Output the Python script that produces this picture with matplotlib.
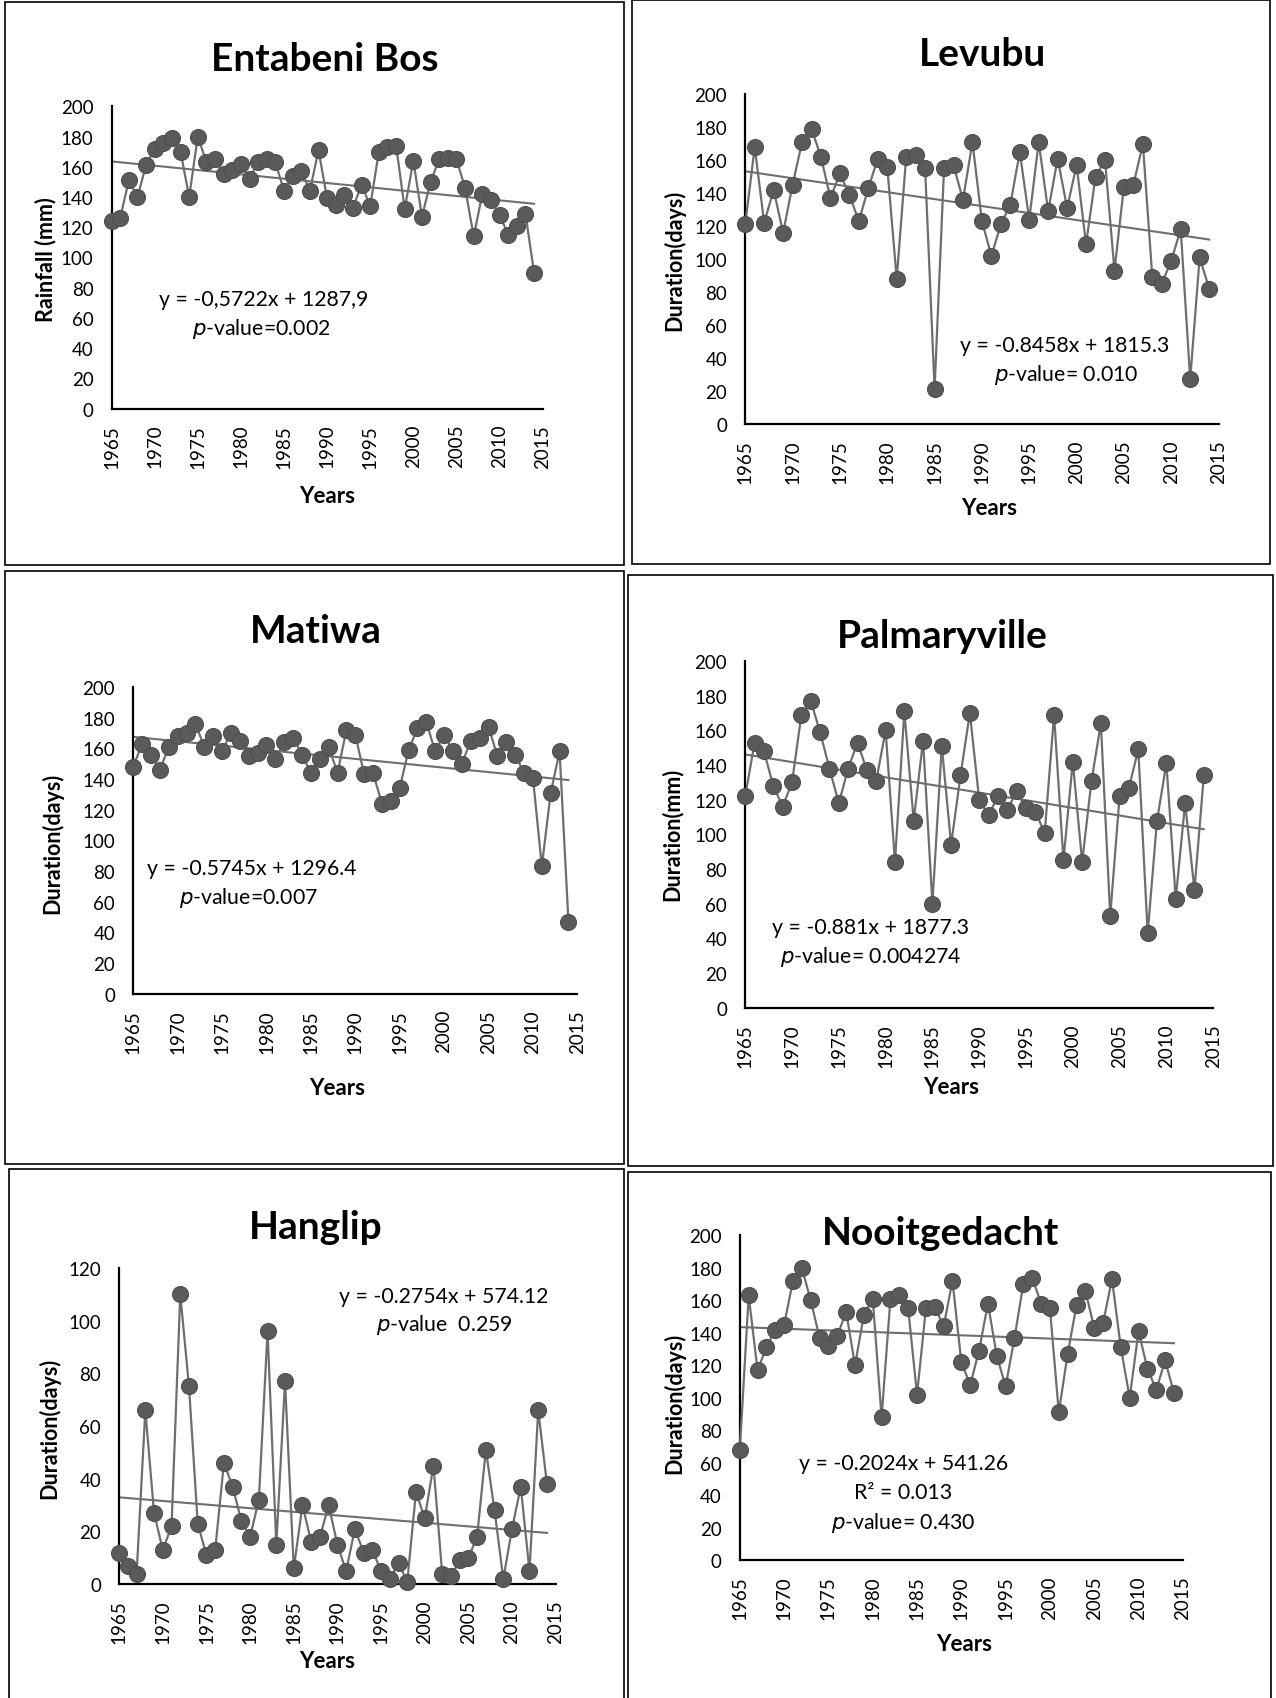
import numpy as np
import matplotlib
matplotlib.use('Agg')
import matplotlib.pyplot as plt
from matplotlib.patches import Rectangle

plt.rcParams['font.family'] = ['Lato', 'DejaVu Sans']

years = np.arange(1965, 2015)

entabeni = [124, 126, 151, 140, 161, 172, 176, 179, 170, 140,
            180, 163, 165, 155, 158, 162, 152, 163, 165, 163,
            144, 154, 157, 144, 171, 139, 135, 141, 133, 148,
            134, 170, 173, 174, 132, 164, 127, 150, 165, 166,
            165, 146, 114, 142, 138, 128, 115, 121, 129, 90]

levubu = [121, 168, 122, 142, 116, 145, 171, 179, 162, 137,
          152, 139, 123, 143, 161, 156, 88, 162, 163, 155,
          21, 155, 157, 136, 171, 123, 102, 121, 133, 165,
          124, 171, 129, 161, 131, 157, 109, 150, 160, 93,
          144, 145, 170, 89, 85, 99, 118, 27, 101, 82]

matiwa = [148, 163, 156, 146, 161, 168, 170, 176, 161, 168,
          158, 170, 165, 155, 157, 162, 153, 164, 167, 156,
          144, 153, 161, 144, 172, 169, 143, 144, 124, 126,
          134, 159, 173, 177, 158, 169, 158, 150, 165, 167,
          174, 155, 164, 156, 144, 141, 83, 131, 158, 47]

palmaryville = [122, 153, 148, 128, 116, 130, 169, 177, 159, 138,
                118, 138, 153, 137, 131, 160, 84, 171, 108, 154,
                60, 151, 94, 134, 170, 120, 111, 122, 114, 125,
                115, 113, 101, 169, 85, 142, 84, 131, 164, 53,
                122, 127, 149, 43, 108, 141, 63, 118, 68, 134]

hanglip = [12, 7, 4, 66, 27, 13, 22, 110, 75, 23,
           11, 13, 46, 37, 24, 18, 32, 96, 15, 77,
           6, 30, 16, 18, 30, 15, 5, 21, 12, 13,
           5, 2, 8, 1, 35, 25, 45, 4, 3, 9,
           10, 18, 51, 28, 2, 21, 37, 5, 66, 38]

nooitgedacht = [68, 163, 117, 131, 142, 145, 172, 180, 160, 137,
                132, 138, 153, 120, 151, 161, 88, 161, 163, 155,
                102, 155, 156, 144, 172, 122, 108, 129, 158, 126,
                107, 137, 170, 174, 158, 155, 91, 127, 157, 166,
                143, 146, 173, 131, 100, 141, 118, 105, 123, 103]

# (slope, intercept) of the fitted linear trends
trends = {
    'Entabeni Bos': (-0.5722, 1287.9),
    'Levubu': (-0.8458, 1815.3),
    'Matiwa': (-0.5745, 1296.4),
    'Palmaryville': (-0.881, 1877.3),
    'Hanglip': (-0.2754, 574.12),
    'Nooitgedacht': (-0.2024, 541.26),
}

W, H = 1178.0, 1568.0


def fx(x):
    return x / W


def fy(y):
    return 1 - y / H


panels = [
    dict(name='Entabeni Bos', data=entabeni, ylabel='Rainfall (mm)', ymax=200,
         box=(5, 3, 576, 522), ax=(103, 99, 501, 378),
         title=(300, 55), xlab=(302, 458), ylab=(42, 240),
         notes=[('y = -0,5722x + 1287,9', 243, 277), ('$\\it{p}$-value=0.002', 241, 304)]),
    dict(name='Levubu', data=levubu, ylabel='Duration(days)', ymax=200,
         box=(583, 1, 1172, 521), ax=(688, 88, 1125, 392),
         title=(907, 50), xlab=(913, 469), ylab=(622, 240),
         notes=[('y = -0.8458x + 1815.3', 983, 319), ('$\\it{p}$-value= 0.010', 984, 346)]),
    dict(name='Matiwa', data=matiwa, ylabel='Duration(days)', ymax=200,
         box=(5, 528, 576, 1075), ax=(123, 635, 533, 918),
         title=(292, 583), xlab=(311, 1005), ylab=(48, 778),
         notes=[('y = -0.5745x + 1296.4', 232, 802), ('$\\it{p}$-value=0.007', 229, 829)]),
    dict(name='Palmaryville', data=palmaryville, ylabel='Duration(mm)', ymax=200,
         box=(580, 532, 1175, 1077), ax=(688, 611, 1120, 931),
         title=(870, 587), xlab=(878, 1004), ylab=(620, 770),
         notes=[('y = -0.881x + 1877.3', 804, 856), ('$\\it{p}$-value= 0.004274', 804, 883)]),
    dict(name='Hanglip', data=hanglip, ylabel='Duration(days)', ymax=120,
         box=(8, 1080, 576, 1575), ax=(110, 1171, 513, 1463),
         title=(291, 1133), xlab=(302, 1533), ylab=(45, 1318),
         notes=[('y = -0.2754x + 574.12', 410, 1197), ('$\\it{p}$-value  0.259', 410, 1223)]),
    dict(name='Nooitgedacht', data=nooitgedacht, ylabel='Duration(days)', ymax=200,
         box=(580, 1083, 1173, 1575), ax=(683, 1141, 1092, 1441),
         title=(868, 1138), xlab=(890, 1518), ylab=(622, 1295),
         notes=[('y = -0.2024x + 541.26', 834, 1351), ('R² = 0.013', 834, 1378),
                ('$\\it{p}$-value= 0.430', 834, 1406)]),
]

fig = plt.figure(figsize=(12.76, 16.99), dpi=100)

for p in panels:
    # panel frame
    x0, y0, x1, y1 = p['box']
    fig.patches.append(Rectangle((fx(x0), fy(y1)), fx(x1) - fx(x0), fy(y0) - fy(y1),
                                 transform=fig.transFigure, fill=False,
                                 edgecolor='black', linewidth=1.2))

    l, t, r, b = p['ax']
    ax = fig.add_axes([fx(l), fy(b), fx(r) - fx(l), fy(t) - fy(b)])

    vals = np.array(p['data'])
    ax.plot(years, vals, color='#6e6e6e', linewidth=1.6, marker='o',
            markersize=11.5, markerfacecolor='#5a5a5a', markeredgecolor='#4f4f4f',
            markeredgewidth=0.8, clip_on=False, zorder=3)

    slope, icpt = trends[p['name']]
    ax.plot(years, slope * years + icpt, color='#6e6e6e', linewidth=1.5, zorder=2)

    ax.set_xlim(1965, 2015)
    ax.set_ylim(0, p['ymax'])
    ax.set_xticks(np.arange(1965, 2016, 5))
    ax.set_yticks(np.arange(0, p['ymax'] + 1, 20))
    ax.tick_params(axis='x', labelrotation=90, length=0, labelsize=13.5, pad=11)
    ax.tick_params(axis='y', length=0, labelsize=13.5, pad=13)
    for s in ['top', 'right']:
        ax.spines[s].set_visible(False)
    for s in ['left', 'bottom']:
        ax.spines[s].set_linewidth(1.6)
        ax.spines[s].set_color('black')

    fig.text(fx(p['title'][0]), fy(p['title'][1]), p['name'], ha='center', va='center',
             fontsize=28, fontweight='bold')
    fig.text(fx(p['xlab'][0]), fy(p['xlab'][1]), 'Years', ha='center', va='center',
             fontsize=16, fontweight='bold')
    fig.text(fx(p['ylab'][0]), fy(p['ylab'][1]), p['ylabel'], ha='center', va='center',
             fontsize=15.5, fontweight='bold', rotation=90)
    for txt, tx, ty in p['notes']:
        fig.text(fx(tx), fy(ty), txt, ha='center', va='center', fontsize=15.3)

fig.savefig('out.png', dpi=100, facecolor='white')
